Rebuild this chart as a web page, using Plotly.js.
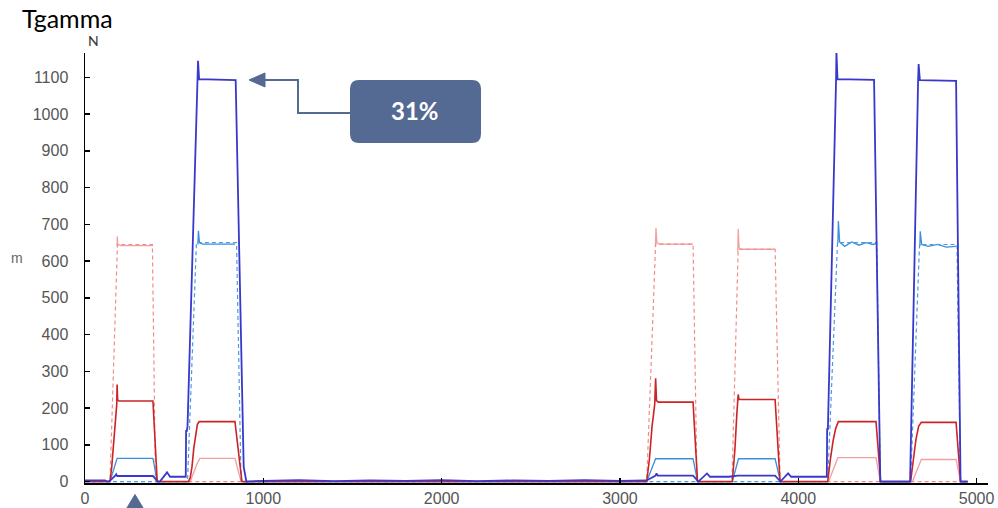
<!DOCTYPE html>
<html>
<head>
<meta charset="utf-8">
<script src="https://cdn.plot.ly/plotly-3.0.1.min.js"></script>
<style>html,body{margin:0;padding:0;background:#fff;}#chart{width:998px;height:508px;}</style>
</head>
<body>
<div id="chart"></div>
<script>
// ---- data ----
const xTickVals = [0, 1000, 2000, 3000, 4000, 5000];
const yTickVals = [0, 100, 200, 300, 400, 500, 600, 700, 800, 900, 1000, 1100];

// pink dashed reference ramps (red pulses)
const pinkDashX = [0, 140, 182, 378, 395, 3150, 3200, 3410, 3432, 3628, 3663, 3870, 3898, 4950];
const pinkDashY = [0, 0, 645, 645, 0, 0, 646, 646, 0, 0, 632, 632, 0, 0];

// pink solid (measured); null = hidden behind the dashed ramp
const pinkX = [0, 140, 141, 180, 181, 184, 200, 381, 382, 400, 590, 630, 645, 841, 875, 3150, 3151, 3199, 3202, 3207, 3220, 3410, 3411, 3432, 3628, 3629, 3661, 3663, 3668, 3680, 3870, 3871, 3898, 4170, 4222, 4436, 4460, 4640, 4690, 4885, 4910, 4950];
const pinkY = [0, 0, null, 640, 667, 645, 642, 642, null, 0, 0, 50, 63, 63, 0, 0, null, 640, 690, 650, 646, 646, null, 0, 0, null, 625, 687, 636, 632, 632, null, 0, 0, 65, 65, 0, 0, 60, 60, 0, 0];

// light blue dashed reference ramps (blue pulses)
const lbDashX = [0, 575, 625, 850, 875, 4165, 4220, 4440, 4460, 4630, 4680, 4890, 4910, 4950];
const lbDashY = [0, 0, 650, 650, 0, 0, 650, 650, 0, 0, 645, 645, 0, 0];

// light blue solid
const lbX = [0, 140, 180, 381, 405, 590, 591, 633, 636, 642, 660, 841, 842, 880, 3150, 3200, 3410, 3435, 3630, 3665, 3870, 3900, 4165, 4166, 4222, 4225, 4232, 4260, 4300, 4340, 4380, 4420, 4436, 4437, 4465, 4627, 4628, 4682, 4684, 4692, 4730, 4780, 4830, 4885, 4886, 4912, 4950];
const lbY = [0, 0, 63, 63, 0, 0, null, 645, 682, 650, 646, 646, null, 0, 0, 62, 62, 0, 0, 62, 62, 0, 0, null, 648, 709, 652, 640, 652, 643, 650, 645, 648, null, 0, 0, null, 640, 681, 645, 640, 645, 638, 640, null, 0, 0];

// dark red solid
const redX = [0, 140, 150, 160, 170, 178, 180, 183, 190, 381, 405, 580, 590, 600, 610, 620, 630, 640, 841, 880, 3150, 3165, 3180, 3195, 3200, 3205, 3215, 3410, 3435, 3630, 3645, 3655, 3663, 3668, 3870, 3898, 4165, 4180, 4195, 4210, 4225, 4436, 4462, 4630, 4645, 4660, 4675, 4690, 4885, 4910, 4950];
const redY = [0, 0, 40, 110, 170, 210, 264, 222, 219, 219, 0, 0, 10, 40, 90, 130, 155, 163, 163, 0, 0, 60, 150, 210, 281, 220, 216, 216, 0, 0, 90, 180, 237, 223, 223, 0, 0, 60, 110, 145, 163, 163, 0, 0, 60, 115, 150, 161, 161, 0, 0];

// dark blue solid
const dbX = [0, 112, 125, 140, 168, 175, 180, 381, 410, 420, 460, 477, 565, 567, 570, 575, 632, 634, 640, 845, 890, 905, 1000, 1200, 1400, 1600, 1800, 2000, 2200, 2400, 2600, 2800, 3000, 3140, 3150, 3200, 3205, 3212, 3410, 3440, 3488, 3505, 3610, 3660, 3870, 3900, 3943, 3960, 4160, 4162, 4166, 4212, 4214, 4220, 4425, 4460, 4627, 4672, 4675, 4682, 4885, 4910, 4950];
const dbY = [3, 3, 0, 2, 15, 20, 15, 15, 0, 0, 25, 13, 13, 140, 135, 150, 1092, 1145, 1095, 1092, 40, 0, 2, 4, 1, 3, 2, 4, 1, 3, 2, 4, 2, 3, 3, 16, 22, 16, 16, 0, 22, 13, 13, 16, 16, 0, 22, 13, 13, 145, 140, 1093, 1170, 1095, 1093, 0, 0, 1090, 1136, 1092, 1090, 0, 0];

// ---- chart ----
const C = {
  pinkDash: '#f08c8c',
  pink: '#f2a0a0',
  lbDash: '#4a9ae6',
  lb: '#3a8fe0',
  red: '#cc2424',
  db: '#3838cc',
  box: '#546a93'
};
function tr(x, y, color, width, dash) {
  return {x: x, y: y, type: 'scatter', mode: 'lines', hoverinfo: 'skip', showlegend: false, connectgaps: false,
          line: {color: color, width: width, dash: dash || 'solid'}};
}
const traces = [
  tr(pinkX, pinkY, C.pink, 1.3),
  tr(pinkDashX, pinkDashY, C.pinkDash, 1.2, '4px,3px'),
  tr(lbX, lbY, C.lb, 1.3),
  tr(lbDashX, lbDashY, C.lbDash, 1.2, '4px,3px'),
  tr(redX, redY, C.red, 1.6),
  tr(dbX, dbY, C.db, 1.8)
];

// helpers for pixel -> paper conversion (decorations only)
const L = 85, R = 10, T = 53, B = 24.5, W = 998, H = 508;
const pw = W - L - R, ph = H - T - B;
const px = v => (v - L) / pw;
const py = v => (H - B - v) / ph;

function roundRect(x0, y0, x1, y1, r) {
  const X0 = px(x0), X1 = px(x1), Y0 = py(y0), Y1 = py(y1);
  const rx = r / pw, ry = r / ph;
  return `M${X0 + rx},${Y0} L${X1 - rx},${Y0} Q${X1},${Y0} ${X1},${Y0 - ry} L${X1},${Y1 + ry} Q${X1},${Y1} ${X1 - rx},${Y1} L${X0 + rx},${Y1} Q${X0},${Y1} ${X0},${Y1 + ry} L${X0},${Y0 - ry} Q${X0},${Y0} ${X0 + rx},${Y0} Z`;
}
const shapes = [
  {type: 'path', xref: 'paper', yref: 'paper', path: roundRect(350, 80, 481, 143, 9),
   fillcolor: C.box, line: {width: 0}},
  {type: 'path', xref: 'paper', yref: 'paper',
   path: `M${px(350)},${py(113)} L${px(298)},${py(113)} L${px(298)},${py(80)} L${px(262)},${py(80)}`,
   line: {color: C.box, width: 2}},
  {type: 'path', xref: 'paper', yref: 'paper',
   path: `M${px(249)},${py(80)} L${px(265)},${py(73)} L${px(265)},${py(87)} Z`,
   fillcolor: C.box, line: {color: C.box, width: 1}},
  {type: 'path', xref: 'paper', yref: 'paper',
   path: `M${px(135)},${py(495)} L${px(144)},${py(510)} L${px(126)},${py(510)} Z`,
   fillcolor: C.box, line: {color: C.box, width: 1}}
];

const annotations = [
  {xref: 'paper', yref: 'paper', x: px(415), y: py(111), text: '<b>31%</b>', showarrow: false,
   xanchor: 'center', yanchor: 'middle', font: {family: 'Lato, Open Sans, sans-serif', size: 24, color: '#ffffff'}},
  {xref: 'paper', yref: 'paper', x: px(93), y: py(40), text: 'N', showarrow: false,
   xanchor: 'center', yanchor: 'middle', font: {family: 'Lato, sans-serif', size: 14, color: '#333'}},
  {xref: 'paper', yref: 'paper', x: px(17), y: py(258), text: 'm', showarrow: false,
   xanchor: 'center', yanchor: 'middle', font: {family: 'Arial, Liberation Sans, sans-serif', size: 14, color: '#666'}}
];

const tickFont = {family: 'Arial, Liberation Sans, sans-serif', size: 16, color: '#555'};
const layout = {
  width: W, height: H,
  margin: {l: L, r: R, t: T, b: B, pad: 0},
  paper_bgcolor: '#ffffff', plot_bgcolor: '#ffffff',
  title: {text: 'Tgamma', x: 0.022, xanchor: 'left', xref: 'container', y: 0.963, yanchor: 'middle', yref: 'container',
          font: {family: 'Lato, Open Sans, sans-serif', size: 25, color: '#000'}},
  xaxis: {range: [0, 5064], tickvals: xTickVals, ticktext: xTickVals.map(String), ticks: 'inside', ticklen: 5,
          tickwidth: 1.5, tickcolor: '#000', showline: true, linecolor: '#000', linewidth: 1.5,
          showgrid: false, zeroline: false, fixedrange: true, tickfont: tickFont},
  yaxis: {range: [-4, 1166], tickvals: yTickVals, ticktext: yTickVals.map(String), ticks: 'inside', ticklen: 5,
          tickwidth: 1.5, tickcolor: '#000', showline: true, linecolor: '#000', linewidth: 1.5,
          showgrid: false, zeroline: false, fixedrange: true, ticklabelstandoff: 12, tickfont: tickFont},
  shapes: shapes,
  annotations: annotations
};
Plotly.newPlot('chart', traces, layout, {staticPlot: true, displayModeBar: false});
</script>
</body>
</html>
